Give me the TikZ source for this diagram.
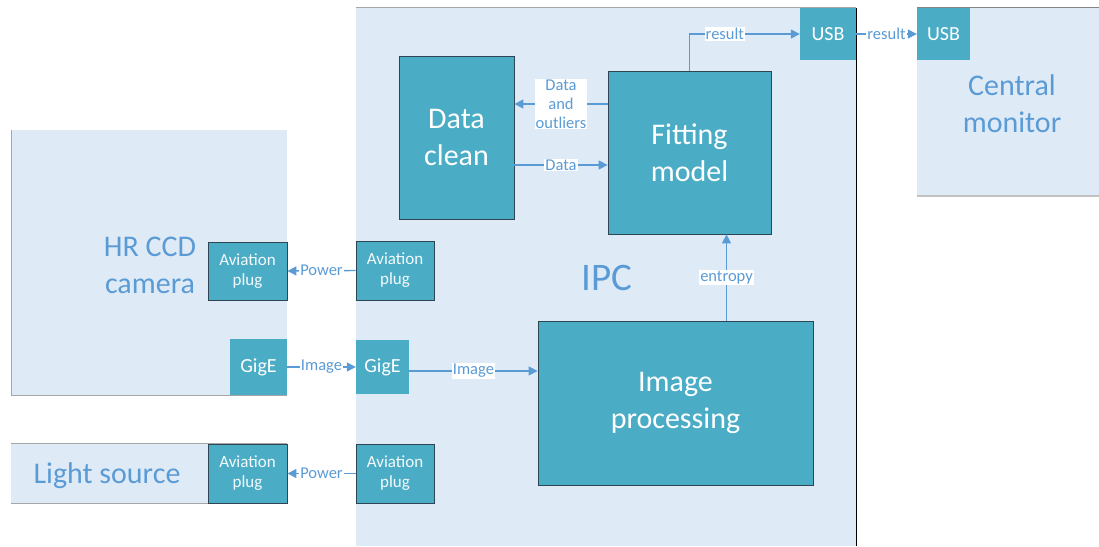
\documentclass[tikz,border=0pt]{standalone}
\usepackage{fontspec}
\setmainfont{Carlito}
\usepackage{tikz}
\usetikzlibrary{arrows.meta}
\definecolor{pale}{HTML}{DEEBF7}
\definecolor{block}{HTML}{4BACC6}
\definecolor{link}{HTML}{5B9BD5}
\definecolor{rim}{HTML}{A6A6A6}
\definecolor{dark}{HTML}{2E4652}
\tikzset{
  area/.style={fill=pale, inner sep=0pt},
  unit/.style={fill=block, draw=dark, line width=0.8pt, text=white, align=center, inner sep=0pt, font=\fontsize{30}{37}\selectfont},
  plug/.style={fill=block, draw=dark, line width=0.8pt, text=white!94!block, align=center, inner sep=0pt, font=\fontsize{17}{20}\selectfont},
  port/.style={fill=block, text=white, inner sep=0pt, font=\fontsize{20}{24}\selectfont},
  wire/.style={draw=link, line width=1.4pt, -{Triangle[length=9pt,width=9pt]}},
  tag/.style={fill=white, text=link, align=center, inner sep=1pt, font=\fontsize{16.5}{19}\selectfont},
  title/.style={text=link, align=center, font=\fontsize{30}{37}\selectfont},
}

\begin{document}
\begin{tikzpicture}[x=1pt,y=-1pt]
  \useasboundingbox (0,0) rectangle (1099,546);
  % outer boxes
  \node[area, minimum width=500, minimum height=538] (ipc) at (606,277) {};
  \node[area, minimum width=275, minimum height=265] (cam) at (149.5,262.5) {};
  \node[area, minimum width=276, minimum height=59] (lamp) at (149,473.5) {};
  \node[area, minimum width=182, minimum height=188] (mon) at (1008,102) {};
  \draw[rim, line width=1pt] (ipc.north west) -- (ipc.north east);
  \draw[black, line width=1pt] (ipc.north east) -- (ipc.south east);
  \draw[rim, line width=1.2pt] (cam.north west) -- (cam.south west) -- (cam.south east);
  \draw[rim, line width=1.2pt] (lamp.north west) -- (lamp.north east);
  \draw[rim, line width=1.2pt] (lamp.south west) -- (lamp.south east);
  \draw[rim!80!black, line width=1pt] (mon.north west) -- (mon.north east);
  \draw[rim!70, line width=2pt] (mon.south west) -- (mon.south east);
  \node[title] (camtxt) at (150,265) {HR CCD\\camera};
  \node[title] (lamptxt) at (107,475.5) {Light source};
  \node[title] (montxt) at (1012,104) {Central\\monitor};
  \node[title, font=\fontsize{39}{44}\selectfont] (ipctxt) at (607,278) {IPC};

  % plugs and ports
  \node[plug, minimum width=79, minimum height=58] (camplug) at (247.5,271) {Aviation\\plug};
  \node[port, minimum width=57, minimum height=56] (camgige) at (258.5,367) {GigE};
  \node[plug, minimum width=79, minimum height=59] (lampplug) at (247.5,473.5) {Aviation\\plug};
  \node[plug, minimum width=78, minimum height=59] (plugA) at (395,270.5) {Aviation\\plug};
  \node[port, minimum width=53, minimum height=54] (ipcgige) at (382.5,367) {GigE};
  \node[plug, minimum width=78, minimum height=59] (plugB) at (395,473.5) {Aviation\\plug};
  \node[port, minimum width=56, minimum height=52] (usbA) at (828,34) {USB};
  \node[port, minimum width=53, minimum height=52] (usbB) at (943.5,34) {USB};

  % processing blocks
  \node[unit, minimum width=115, minimum height=163] (clean) at (456.5,137.5) {Data\\clean};
  \node[unit, minimum width=163, minimum height=163] (fit) at (689.5,152.5) {Fitting\\model};
  \node[unit, minimum width=275, minimum height=164] (proc) at (675.5,403) {Image\\processing};

  % connectors
  \draw[wire] (plugA.west) -- node[tag] {Power} (camplug.east);
  \draw[wire] (camgige.east) -- node[tag] {Image} (ipcgige.west);
  \draw[wire] (plugB.west) -- node[tag] {Power} (lampplug.east);
  \draw[wire] ([yshift=-4pt]ipcgige.east) -- node[tag] {Image} ([yshift=-4pt]ipcgige.east -| proc.west);
  \path (proc.north) ++(51,0) coordinate (e0);
  \draw[wire] (e0) -- node[tag] {entropy} (e0 |- fit.south);
  \draw[wire] ([yshift=48.5pt]fit.west) -- node[tag] {Data\\and\\outliers} ([yshift=48.5pt]fit.west -| clean.east);
  \draw[wire] ([yshift=-12.5pt]fit.west -| clean.east) -- node[tag] {Data} ([yshift=-12.5pt]fit.west);
  \draw[wire] (fit.north) |- node[tag, pos=0.66] {result} (usbA.west);
  \draw[wire] (usbA.east) -- node[tag] {result} (usbB.west);
\end{tikzpicture}
\end{document}
